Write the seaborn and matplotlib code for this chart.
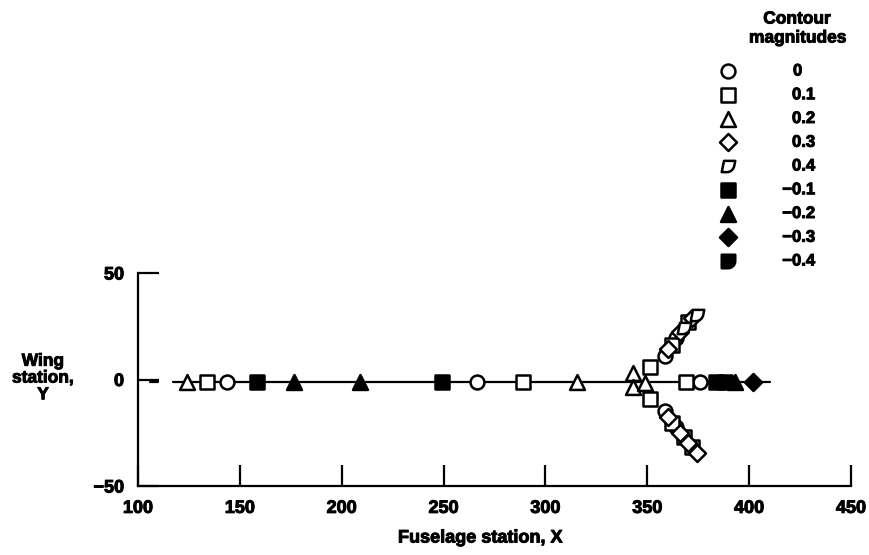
import numpy as np
import matplotlib
matplotlib.use("Agg")
import matplotlib.pyplot as plt
import matplotlib.patheffects as pe
from matplotlib.path import Path
import seaborn as sns

# --- data ---
center_x = [124.0, 134.0, 143.7, 158.4, 176.6, 209.0, 249.2, 266.4, 289.0, 315.5,
            343.0, 343.0, 349.0, 351.3, 351.3,
            369.0, 375.9, 383.7, 388.2, 393.1, 401.9]
center_y = [-1, -1, -1, -1, -1, -1, -1, -1, -1, -1,
            3.0, -3.3, -1.5, 6.0, -9.0,
            -1, -1, -1, -1, -1, -1]
center_mag = [0.2, 0.1, 0, -0.1, -0.2, -0.2, -0.1, 0, 0.1, 0.2,
              0.2, 0.2, 0.2, 0.1, 0.1,
              0.1, 0, -0.1, -0.1, -0.2, -0.3]

upper_x = [358.7, 360.2, 362.2, 364.1, 366.1, 368.0, 370.0, 372.0, 374.4]
upper_y = [10.8, 14.1, 16.4, 19.7, 22.1, 24.4, 26.8, 29.1, 30.5]
upper_mag = [0, 0.3, 0.1, 0, 0.3, 0.4, 0.1, 0.3, 0.4]

lower_x = [358.7, 360.2, 362.2, 364.1, 366.1, 368.0, 370.0, 372.0, 374.4]
lower_y = [-15.0, -17.8, -20.2, -22.5, -24.9, -27.2, -29.6, -31.9, -34.3]
lower_mag = [0, 0.3, 0.1, 0, 0.3, 0.1, 0.3, 0.1, 0.3]

# the axis line has a short stub on the left, then a gap
line_x1 = [106, 110]
line_x2 = [117, 410]
line_y = [-1, -1]

legend_mags = [0, 0.1, 0.2, 0.3, 0.4, -0.1, -0.2, -0.3, -0.4]
legend_labels = ["0", "0.1", "0.2", "0.3", "0.4", "\u22120.1", "\u22120.2", "\u22120.3", "\u22120.4"]


def d_marker(skew=0.0):
    verts = [(-1, 1), (1, 1), (1, 0.1), (1, -0.6), (0.5, -1), (-0.1, -1), (-1, -1), (-1, 1)]
    verts = [(vx + skew * vy, vy) for vx, vy in verts]
    codes = [Path.MOVETO, Path.LINETO, Path.LINETO, Path.CURVE4, Path.CURVE4,
             Path.CURVE4, Path.LINETO, Path.CLOSEPOLY]
    return Path(verts, codes)


# magnitude -> (marker, filled)
STYLE = {
    0: ("o", False),
    0.1: ("s", False),
    0.2: ("^", False),
    0.3: ("D", False),
    0.4: (d_marker(0.2), False),
    -0.1: ("s", True),
    -0.2: ("^", True),
    -0.3: ("D", True),
    -0.4: (d_marker(0.0), True),
}
SIZES = {"o": 100, "s": 100, "^": 115, "D": 75}

sns.set_style("ticks")
plt.rcParams["font.family"] = ["Liberation Sans", "DejaVu Sans"]
plt.rcParams["font.weight"] = "bold"
for key in ["text.color", "axes.edgecolor", "xtick.color", "ytick.color", "axes.labelcolor"]:
    plt.rcParams[key] = "black"
HEAVY = [pe.withStroke(linewidth=0.7, foreground="black")]

fig = plt.figure(figsize=(8.69, 5.55), dpi=100)
ax = fig.add_axes([138 / 869, 69 / 555, 713 / 869, 213 / 555])

sns.lineplot(x=line_x1, y=line_y, color="black", linewidth=1.6, ax=ax, zorder=1)
sns.lineplot(x=line_x2, y=line_y, color="black", linewidth=1.6, ax=ax, zorder=1)


def draw(ax, xs, ys, mags):
    for m in STYLE:
        sel = [i for i, v in enumerate(mags) if v == m]
        if not sel:
            continue
        mk, filled = STYLE[m]
        size = SIZES.get(mk, 95) if isinstance(mk, str) else 95
        sns.scatterplot(x=[xs[i] for i in sel], y=[ys[i] for i in sel], marker=mk,
                        s=size, color="black" if filled else "white",
                        edgecolor="black", linewidth=1.8, ax=ax, zorder=3)


draw(ax, center_x, center_y, center_mag)
draw(ax, upper_x, upper_y, upper_mag)
draw(ax, lower_x, lower_y, lower_mag)

ax.set_xlim(100, 450)
ax.set_ylim(-50, 50)
ax.set_xticks(np.arange(100, 451, 50))
ax.set_yticks([-50, 0, 50])
ax.set_yticklabels(["\u221250", "0", "50"])
ax.tick_params(direction="in", length=15, width=1.6, labelsize=13, pad=10)
ax.tick_params(axis="y", pad=10)
for lab in ax.get_xticklabels() + ax.get_yticklabels():
    lab.set_fontweight("bold")
    lab.set_path_effects(HEAVY)
sns.despine(ax=ax)
for s in ["left", "bottom"]:
    ax.spines[s].set_linewidth(1.6)

ax.set_xlabel("")
ax.set_ylabel("")
fig.text(480 / 869, 1 - 538 / 555, "Fuselage station, X", ha="center", va="center",
         fontsize=13, fontweight="bold", path_effects=HEAVY)
fig.text(43 / 869, 1 - 378 / 555, "Wing\nstation,\nY", ha="center", va="center",
         fontsize=12.5, fontweight="bold", linespacing=1.15, path_effects=HEAVY)

# --- legend, laid out in pixel coordinates ---
lax = fig.add_axes([0, 0, 1, 1])
lax.set_xlim(0, 869)
lax.set_ylim(555, 0)
lax.axis("off")
lax.text(797, 19, "Contour", ha="center", va="center", fontsize=12.5,
         fontweight="bold", path_effects=HEAVY)
lax.text(798, 38, "magnitudes", ha="center", va="center", fontsize=12.5,
         fontweight="bold", path_effects=HEAVY)
row_y = [71 + 23.75 * i for i in range(len(legend_mags))]
draw(lax, [728] * len(legend_mags), row_y, legend_mags)
for yy, lab in zip(row_y, legend_labels):
    if lab == "0":
        lax.text(793, yy, lab, ha="left", va="center", fontsize=12,
                 fontweight="bold", path_effects=HEAVY)
    else:
        lax.text(815, yy, lab, ha="right", va="center", fontsize=12,
                 fontweight="bold", path_effects=HEAVY)

fig.savefig("out.png", dpi=100)
